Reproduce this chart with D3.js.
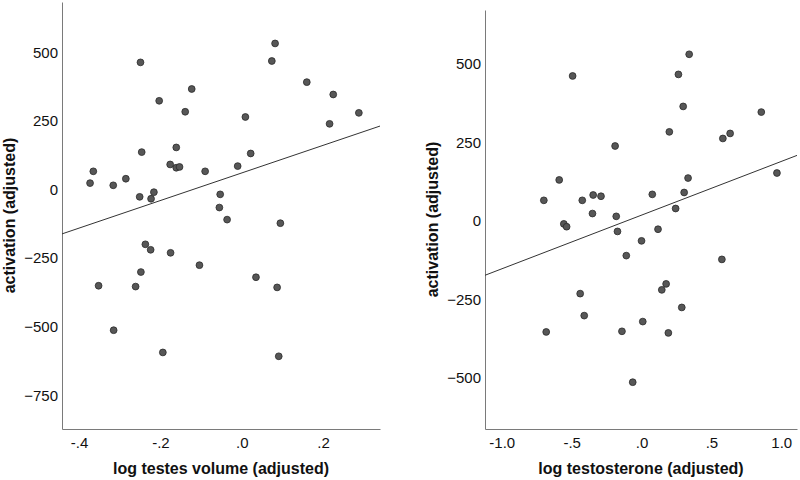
<!DOCTYPE html>
<html>
<head>
<meta charset="utf-8">
<script src="https://cdn.jsdelivr.net/npm/d3@7"></script>
<style>
  body { margin: 0; background: #fff; }
  text { font-family: "Liberation Sans", Arial, sans-serif; fill: #111; }
</style>
</head>
<body>
<svg id="chart" width="800" height="480"></svg>
<script>
// left panel: log testes volume vs activation
const testesX = [-0.249, -0.123, -0.203, -0.139, -0.161, -0.246, -0.365, -0.176, -0.161, -0.153,
  -0.373, -0.316, -0.285, -0.251, -0.216, -0.223, 0.082, 0.074, 0.160, 0.225,
  0.288, 0.216, 0.009, 0.022, -0.010, -0.090, -0.053, -0.055, -0.036, 0.095,
  -0.237, -0.224, -0.175, -0.104, -0.352, -0.248, -0.261, -0.315, -0.194, 0.035,
  0.087, 0.091];
const testesY = [463, 366, 323, 283, 153, 136, 66, 91, 79, 82,
  23, 15, 39, -27, -10, -34, 532, 468, 391, 346,
  279, 239, 264, 131, 85, 66, -18, -66, -110, -123,
  -200, -220, -231, -276, -351, -301, -354, -513, -594, -320,
  -357, -608];

// right panel: log testosterone vs activation
const testoX = [-0.493, -0.189, -0.589, -0.699, -0.424, -0.346, -0.290, -0.351, -0.181, -0.556,
  -0.536, -0.172, 0.341, 0.264, 0.298, 0.857, 0.199, 0.582, 0.634, 0.333,
  0.969, 0.077, 0.305, 0.244, 0.118, 0.000, -0.109, 0.575, 0.176, 0.145,
  0.288, 0.009, -0.140, 0.192, -0.439, -0.410, -0.682, -0.063];
const testoY = [462, 239, 131, 66, 66, 83, 79, 24, 15, -9,
  -18, -33, 531, 467, 365, 347, 284, 263, 279, 137,
  153, 85, 91, 40, -26, -63, -110, -122, -200, -219,
  -275, -320, -351, -356, -231, -301, -353, -513];

const testesTicksX = [-0.4, -0.2, 0.0, 0.2];
const testesTicksY = [500, 250, 0, -250, -500, -750];
const testoTicksX = [-1.0, -0.5, 0.0, 0.5, 1.0];
const testoTicksY = [500, 250, 0, -250, -500];

const svg = d3.select('#chart');

// SPSS style labels: ".2", "-.4", "1.0"
function fmtX(d) {
    let s = Math.abs(d) >= 1 ? d3.format('.1f')(d) : d3.format('.1f')(d).replace('0.', '.');
    return s.replace('−', '-');
}

function leastSquares(xs, ys) {
    const mx = d3.mean(xs), my = d3.mean(ys);
    let num = 0, den = 0;
    xs.forEach((x, i) => { num += (x - mx) * (ys[i] - my); den += (x - mx) * (x - mx); });
    const slope = num / den;
    return { slope: slope, intercept: my - slope * mx };
}

function drawPanel(p) {
    const x = d3.scaleLinear().domain(p.xDomain).range([p.left, p.right]);
    const y = d3.scaleLinear().domain(p.yDomain).range([p.bottom, p.top]);
    const g = svg.append('g');

    // axes (just the lines + labels, no tick marks)
    const xAxis = d3.axisBottom(x).tickValues(p.xTicks).tickFormat(fmtX).tickSize(0).tickPadding(8);
    const yAxis = d3.axisLeft(y).tickValues(p.yTicks).tickFormat(d3.format('d')).tickSize(0).tickPadding(4);

    g.append('g').attr('transform', `translate(0,${p.bottom})`).call(xAxis)
        .call(a => a.select('.domain').attr('stroke', '#7a7a7a'))
        .selectAll('text').attr('font-size', 15).attr('font-family', '"Liberation Sans", Arial, sans-serif').attr('fill', '#111');
    g.append('g').attr('transform', `translate(${p.left},0)`).call(yAxis)
        .call(a => a.select('.domain').attr('stroke', '#7a7a7a'))
        .selectAll('text').attr('font-size', 15).attr('font-family', '"Liberation Sans", Arial, sans-serif').attr('fill', '#111');

    // fit line
    const fit = leastSquares(p.xs, p.ys);
    const x0 = p.xDomain[0], x1 = p.xDomain[1];
    g.append('line')
        .attr('x1', x(x0)).attr('y1', y(fit.intercept + fit.slope * x0))
        .attr('x2', x(x1)).attr('y2', y(fit.intercept + fit.slope * x1))
        .attr('stroke', '#333').attr('stroke-width', 1);

    g.append('g').selectAll('circle')
        .data(p.xs.map((d, i) => [d, p.ys[i]]))
        .join('circle')
        .attr('cx', d => x(d[0]))
        .attr('cy', d => y(d[1]))
        .attr('r', 3.4)
        .attr('fill', '#575757')
        .attr('stroke', '#2a2a2a')
        .attr('stroke-width', 0.8);

    g.append('text')
        .attr('x', (p.left + p.right) / 2).attr('y', 474)
        .attr('text-anchor', 'middle').attr('font-weight', 'bold').attr('font-size', 16)
        .text(p.xTitle);
    g.append('text')
        .attr('transform', `translate(${p.titleX},${(p.top + p.bottom) / 2}) rotate(-90)`)
        .attr('text-anchor', 'middle').attr('font-weight', 'bold').attr('font-size', 16)
        .text('activation (adjusted)');
}

drawPanel({
    xs: testesX, ys: testesY,
    xDomain: [-0.442, 0.340], yDomain: [-873, 683],
    xTicks: testesTicksX, yTicks: testesTicksY,
    left: 62, right: 380, top: 2, bottom: 429, titleX: 15,
    xTitle: 'log testes volume (adjusted)'
});

drawPanel({
    xs: testoX, ys: testoY,
    xDomain: [-1.12, 1.1125], yDomain: [-662, 672],
    xTicks: testoTicksX, yTicks: testoTicksY,
    left: 485, right: 797, top: 10, bottom: 429, titleX: 438,
    xTitle: 'log testosterone (adjusted)'
});
</script>
</body>
</html>
